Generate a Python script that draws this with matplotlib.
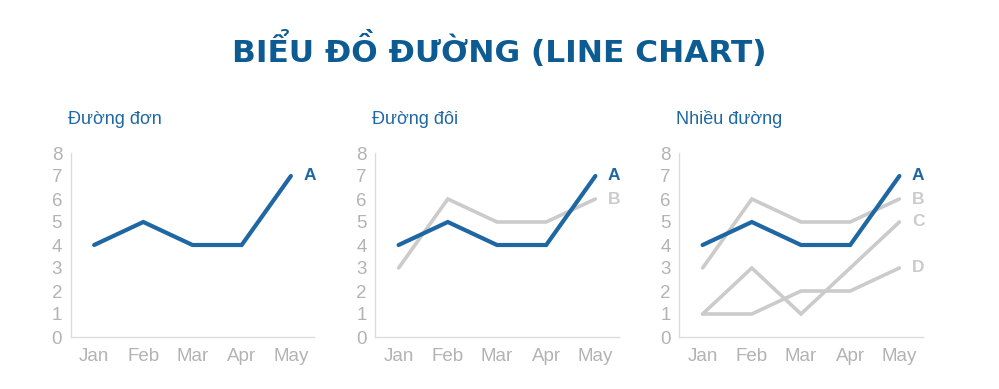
import matplotlib
matplotlib.use("Agg")
import matplotlib.pyplot as plt

plt.rcParams["font.family"] = ["Liberation Sans", "DejaVu Sans"]

# ----------------------------------------------------
# Data
# ----------------------------------------------------
months = ["Jan", "Feb", "Mar", "Apr", "May"]
series_a = [4, 5, 4, 4, 7]
series_b = [3, 6, 5, 5, 6]
series_c = [1, 3, 1, 3, 5]
series_d = [1, 1, 2, 2, 3]
y_ticks = [0, 1, 2, 3, 4, 5, 6, 7, 8]

subtitles = ["Đường đơn", "Đường đôi", "Nhiều đường"]
panel_series = [
    [("A", series_a)],
    [("B", series_b), ("A", series_a)],
    [("D", series_d), ("C", series_c), ("B", series_b), ("A", series_a)],
]

BLUE = "#1f67a3"
GRAY = "#cbcbcb"
TICK_GRAY = "#b3b3b3"
SPINE = "#dcdcdc"
TITLE_BLUE = "#0d5b93"

W, H = 999, 389
fig = plt.figure(figsize=(W / 100, H / 100), dpi=100)

lefts = [70.5, 375, 679]
ax_w = 244
ax_bottom = 337
ax_top = 153

x = list(range(len(months)))

for i, left in enumerate(lefts):
    ax = fig.add_axes([left / W, 1 - ax_bottom / H, ax_w / W,
                       (ax_bottom - ax_top) / H])
    for name, vals in panel_series[i]:
        col = BLUE if name == "A" else GRAY
        lw = 3.0 if name == "A" else 2.6
        ax.plot(x, vals, color=col, lw=lw, solid_capstyle="round",
                solid_joinstyle="miter", zorder=3 if name == "A" else 2,
                clip_on=False)
        ax.annotate(name, xy=(x[-1], vals[-1]), xytext=(9, 0),
                    textcoords="offset points", ha="left", va="center",
                    color=col, fontsize=12.5, weight="bold")
    ax.set_xlim(-0.48, 4.48)
    ax.set_ylim(0, 8)
    ax.set_xticks(x)
    ax.set_xticklabels(months)
    ax.set_yticks(y_ticks)
    ax.tick_params(length=0, colors=TICK_GRAY, labelsize=13.5)
    ax.tick_params(axis="y", pad=6)
    ax.tick_params(axis="x", pad=8)
    for s in ["top", "right"]:
        ax.spines[s].set_visible(False)
    for s in ["left", "bottom"]:
        ax.spines[s].set_color(SPINE)
        ax.spines[s].set_linewidth(1.0)
    ax.set_facecolor("none")

    fig.text((left - 3) / W, 1 - 119 / H, subtitles[i], color=BLUE,
             fontsize=13, ha="left", va="center")

fig.text(0.5, 1 - 50 / H, "BIỂU ĐỒ ĐƯỜNG (LINE CHART)", color=TITLE_BLUE,
         fontsize=22.5, weight="heavy", ha="center", va="center",
         family=["DejaVu Sans"])

fig.savefig("out.png", dpi=100)
